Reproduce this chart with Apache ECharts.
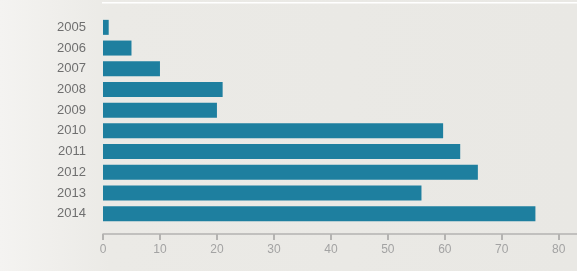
<!DOCTYPE html>
<html>
<head>
<meta charset="utf-8">
<script src="https://cdn.jsdelivr.net/npm/echarts@6/dist/echarts.min.js"></script>
<style>
html,body{margin:0;padding:0;width:577px;height:271px;overflow:hidden;
background:linear-gradient(to right,#f4f3f1 0px,#ebeae6 110px,#e9e8e4 577px);}
#c{width:577px;height:271px;}
</style>
</head>
<body>
<div id="c"></div>
<script>
var years = ['2005','2006','2007','2008','2009','2010','2011','2012','2013','2014'];
var values = [1, 5, 10, 21, 20, 59.7, 62.7, 65.8, 55.9, 75.9];
var xTicks = [0, 10, 20, 30, 40, 50, 60, 70, 80];

var chart = echarts.init(document.getElementById('c'), null, {renderer: 'canvas'});
chart.setOption({
  backgroundColor: 'transparent',
  animation: false,
  grid: {left: 103, right: 0, top: 17, bottom: 47, containLabel: false},
  xAxis: {
    type: 'value',
    min: xTicks[0],
    max: 83.2,
    interval: 10,
    offset: 10,
    splitLine: {show: false},
    axisLine: {show: true, lineStyle: {color: '#b4b3b1', width: 1.5}},
    axisTick: {show: true, length: 6, lineStyle: {color: '#b4b3b1', width: 2}},
    axisLabel: {
      color: '#a3a3a3', fontSize: 12, fontFamily: 'Liberation Sans, Arial, sans-serif',
      margin: 10, showMaxLabel: false,
      formatter: function (v) { return xTicks.indexOf(v) >= 0 ? String(v) : ''; }
    }
  },
  yAxis: {
    type: 'category',
    data: years,
    inverse: true,
    axisLine: {show: false},
    axisTick: {show: false},
    axisLabel: {color: '#6f6f6f', fontSize: 13, fontFamily: 'Liberation Sans, Arial, sans-serif', margin: 17}
  },
  series: [{
    type: 'bar',
    data: values,
    barWidth: 15,
    itemStyle: {color: '#1e7f9f'},
    silent: true
  }],
  graphic: [{
    type: 'rect',
    shape: {x: 102, y: 2, width: 475, height: 1.6},
    style: {fill: '#ffffff'},
    silent: true
  }]
});
</script>
</body>
</html>
